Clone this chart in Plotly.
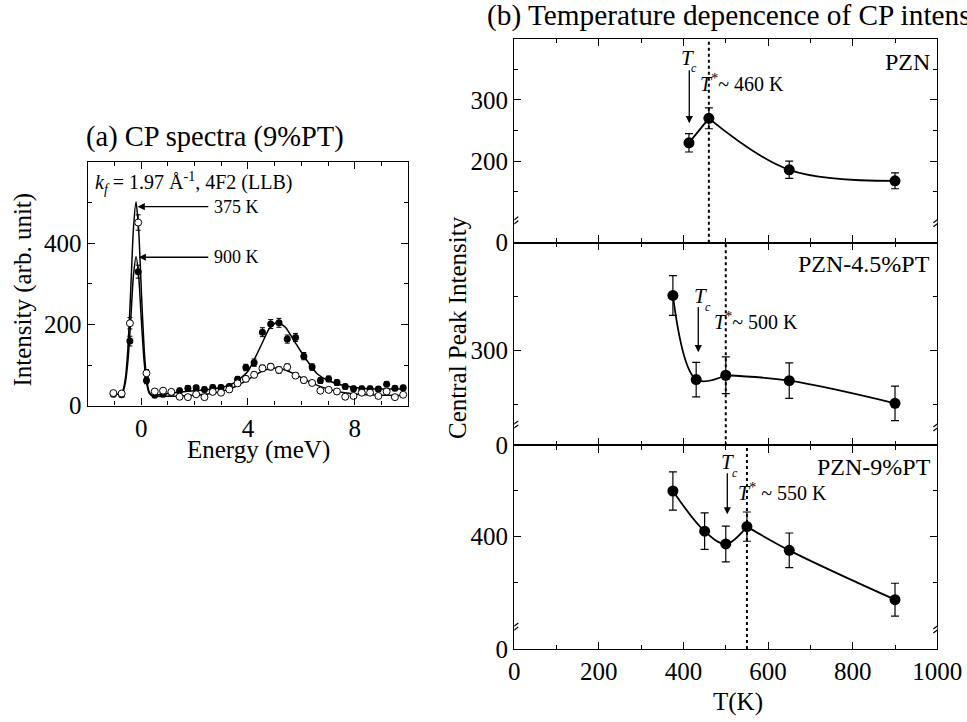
import plotly.graph_objects as go

FONT = "Liberation Serif, Times New Roman, serif"

# ---------------- Panel (a): CP spectra (9%PT) ----------------
E_PTS = [-1.04, -0.73, -0.42, -0.11, 0.20, 0.51, 0.82, 1.13, 1.44, 1.75, 2.06, 2.37,
         2.68, 2.99, 3.30, 3.61, 3.92, 4.23, 4.54, 4.85, 5.16, 5.47, 5.78, 6.09,
         6.40, 6.71, 7.02, 7.33, 7.64, 7.95, 8.26, 8.57, 8.88, 9.19, 9.50, 9.81]
I_375 = [31, 30, 203, 451, 80, 35, 37, 34, 22, 21, 28, 21, 34, 32, 40, 55, 66, 76,
         92, 96, 88, 95, 74, 63, 56, 37, 39, 35, 22, 24, 32, 32, 24, 35, 21, 27]
ERR_375 = [5, 5, 14, 19, 9, 5, 5, 5, 5, 5, 5, 5, 5, 5, 6, 6, 7, 7,
           8, 8, 8, 8, 7, 7, 6, 5, 5, 5, 5, 5, 5, 5, 5, 5, 5, 5]
I_900 = [28, 27, 159, 330, 62, 26, 28, 32, 37, 43, 44, 40, 45, 45, 47, 65, 94, 106,
         181, 201, 204, 164, 168, 122, 95, 62, 66, 57, 47, 42, 42, 42, 41, 53, 43, 44]
ERR_900 = [5, 5, 12, 16, 8, 5, 5, 5, 6, 6, 6, 6, 6, 6, 6, 7, 8, 9,
           11, 11, 11, 10, 10, 9, 8, 7, 7, 7, 6, 6, 6, 6, 6, 6, 6, 6]

# fitted curves
E_FIT = [-1.13, -0.9, -0.79, -0.69, -0.59, -0.49, -0.39, -0.29, -0.19, -0.09, 0.01,
         0.11, 0.21, 0.31, 0.41, 0.6, 1.0, 1.5, 2.0, 2.5, 3.0, 3.5, 4.0, 4.5, 4.8,
         5.1, 5.4, 5.8, 6.2, 6.6, 7.0, 7.5, 8.0, 8.5, 9.0, 9.5, 9.9]
FIT_375 = [28, 28, 30, 36, 67, 147, 284, 434, 502, 430, 280, 143, 63, 33, 25, 23,
           23, 24, 26, 29, 35, 46, 64, 84, 91, 93, 88, 76, 62, 50, 41, 33, 29, 27,
           26, 25, 25]
FIT_900 = [28, 28, 29, 33, 57, 113, 211, 319, 367, 318, 208, 110, 53, 30, 25, 26,
           30, 34, 37, 40, 45, 57, 85, 150, 190, 206, 193, 152, 112, 78, 62, 51, 45,
           42, 41, 41, 41]

# ---------------- Panel (b): temperature dependence ----------------
T_PZN = [413, 460, 650, 900]
I_PZN = [230, 270, 186, 168]
E_PZN = [15, 17, 14, 13]

T_45 = [375, 430, 500, 650, 900]
I_45 = [351, 273, 277, 272, 251]
E_45 = [18.5, 16, 17, 16.5, 16]

T_9 = [375, 450, 500, 550, 650, 900]
I_9 = [450, 406, 392, 411, 385, 331]
E_9 = [21, 20, 19.5, 16, 19, 18]

SAMPLES = ["PZN", "PZN-4.5%PT", "PZN-9%PT"]
T_STAR = [460, 500, 550]
T_STAR_TEXT = ["<i>T</i><sup>*</sup>~ 460 K", "<i>T</i><sup>*</sup>~ 500 K",
               "<i>T</i><sup>*</sup> ~ 550 K"]
T_C = [413.7, 435, 503.6]

fig = go.Figure()

# panel (a) curves
fig.add_trace(go.Scatter(x=E_FIT, y=FIT_375, mode="lines",
                         line=dict(color="black", width=1.5, shape="spline", smoothing=0.6),
                         xaxis="x", yaxis="y", showlegend=False))
fig.add_trace(go.Scatter(x=E_FIT, y=FIT_900, mode="lines",
                         line=dict(color="black", width=1.5, shape="spline", smoothing=0.6),
                         xaxis="x", yaxis="y", showlegend=False))
fig.add_trace(go.Scatter(x=E_PTS, y=I_900, mode="markers",
                         marker=dict(symbol="circle", size=7, color="black"),
                         error_y=dict(type="data", array=ERR_900, color="black", thickness=1, width=2.5),
                         xaxis="x", yaxis="y", showlegend=False))
fig.add_trace(go.Scatter(x=E_PTS, y=I_375, mode="markers",
                         marker=dict(symbol="circle", size=7, color="white",
                                     line=dict(color="black", width=1)),
                         error_y=dict(type="data", array=ERR_375, color="black", thickness=1, width=2.5),
                         xaxis="x", yaxis="y", showlegend=False))

# panel (b) traces
panels = [
    ("x2", "y2", T_PZN, I_PZN, E_PZN, [[0, 1], [1, 2, 3]]),
    ("x3", "y3", T_45, I_45, E_45, [[0, 1, 2], [2, 3, 4]]),
    ("x4", "y4", T_9, I_9, E_9, [[0, 1, 2, 3], [3, 4, 5]]),
]
for xa, ya, T, I, E, segs in panels:
    for seg in segs:
        fig.add_trace(go.Scatter(x=[T[i] for i in seg], y=[I[i] for i in seg], mode="lines",
                                 line=dict(color="black", width=1.8, shape="spline"),
                                 xaxis=xa, yaxis=ya, showlegend=False))
    fig.add_trace(go.Scatter(x=T, y=I, mode="markers",
                             marker=dict(symbol="circle", size=11, color="black"),
                             error_y=dict(type="data", array=E, color="black", thickness=1.2, width=4),
                             xaxis=xa, yaxis=ya, showlegend=False))

axis_common = dict(showline=True, linecolor="black", linewidth=1.4, mirror="ticks",
                   ticks="inside", ticklen=7, tickwidth=1.2, tickcolor="black",
                   showgrid=False, zeroline=False, automargin=False,
                   tickfont=dict(family=FONT, size=25, color="black"))

XB = [0.5318, 0.9693]
lay = dict(
    width=967, height=722, autosize=False,
    margin=dict(l=0, r=0, t=0, b=0, pad=0),
    paper_bgcolor="white", plot_bgcolor="white",
    font=dict(family=FONT, color="black"),
    xaxis=dict(domain=[0.0907, 0.4222], range=[-2, 10], anchor="y",
               tickvals=[0, 4, 8], minor=dict(dtick=1, ticklen=4, ticks="inside", tickcolor="black"),
               **axis_common),
    yaxis=dict(domain=[0.4381, 0.7756], range=[0, 600], anchor="x",
               tickvals=[0, 200, 400], minor=dict(dtick=100, ticklen=4, ticks="inside", tickcolor="black"),
               **axis_common),
    xaxis2=dict(domain=XB, range=[0, 1000], anchor="y2", showticklabels=False,
                tickvals=[0, 200, 400, 600, 800, 1000],
                minor=dict(dtick=100, ticklen=4, ticks="inside", tickcolor="black"), **axis_common),
    yaxis2=dict(domain=[0.6639, 0.9464], range=[67, 400], anchor="x2",
                tickvals=[67, 200, 300], ticktext=["0", "200", "300"],
                minor=dict(tickvals=[150, 250, 350], ticklen=4, ticks="inside", tickcolor="black"),
                **axis_common),
    xaxis3=dict(domain=XB, range=[0, 1000], anchor="y3", showticklabels=False,
                tickvals=[0, 200, 400, 600, 800, 1000],
                minor=dict(dtick=100, ticklen=4, ticks="inside", tickcolor="black"), **axis_common),
    yaxis3=dict(domain=[0.3832, 0.6639], range=[212, 400], anchor="x3",
                tickvals=[212, 300], ticktext=["0", "300"],
                minor=dict(tickvals=[250, 350], ticklen=4, ticks="inside", tickcolor="black"),
                **axis_common),
    xaxis4=dict(domain=XB, range=[0, 1000], anchor="y4",
                tickvals=[0, 200, 400, 600, 800, 1000],
                minor=dict(dtick=100, ticklen=4, ticks="inside", tickcolor="black"), **axis_common),
    yaxis4=dict(domain=[0.1011, 0.3832], range=[277, 500], anchor="x4",
                tickvals=[277, 400], ticktext=["0", "400"],
                minor=dict(tickvals=[350, 450], ticklen=4, ticks="inside", tickcolor="black"),
                **axis_common),
)
fig.update_layout(**lay)

shapes = []
# dotted T* lines
for k, ts in enumerate(T_STAR):
    xa = f"x{k+2}"
    ya = f"y{k+2}"
    shapes.append(dict(type="line", xref=xa, yref=f"{ya} domain", x0=ts, x1=ts, y0=0, y1=1,
                       line=dict(color="black", width=2, dash="dot"), layer="above"))

# axis break marks
BREAKS = [101, 230, 300]
for k, b in enumerate(BREAKS):
    xa = f"x{k+2}"
    ya = f"y{k+2}"
    for xe in (0, 1000):
        shapes.append(dict(type="line", xref=xa, yref=ya, xsizemode="pixel", ysizemode="pixel",
                           xanchor=xe, yanchor=b, x0=0, x1=0, y0=-1.5, y1=1.5,
                           line=dict(color="white", width=4), layer="above"))
        for off in (-2, 2):
            shapes.append(dict(type="line", xref=xa, yref=ya, xsizemode="pixel", ysizemode="pixel",
                               xanchor=xe, yanchor=b, x0=-4, x1=4, y0=off - 3, y1=off + 3,
                               line=dict(color="black", width=1.2), layer="above"))
fig.update_layout(shapes=shapes)

ann = []
def txt(text, x, y, xref, yref, size, xanchor="center", yanchor="middle", angle=0):
    ann.append(dict(text=text, x=x, y=y, xref=xref, yref=yref, showarrow=False,
                    xanchor=xanchor, yanchor=yanchor, textangle=angle,
                    font=dict(family=FONT, size=size, color="black")))

def arrow(x, y, ax, ay, xref, yref):
    ann.append(dict(text="", x=x, y=y, ax=ax, ay=ay, xref=xref, yref=yref,
                    axref=xref, ayref=yref, showarrow=True, arrowhead=2,
                    arrowsize=1.1, arrowwidth=1.3, arrowcolor="black"))

# titles and axis titles
txt("(a) CP spectra (9%PT)", 0.222, 0.8102, "paper", "paper", 28.5)
txt("(b) Temperature depencence of CP intens", 0.5015, 0.979, "paper", "paper", 29.3, xanchor="left")
txt("Intensity (arb. unit)", 0.0233, 0.5983, "paper", "paper", 25, angle=-90)
txt("Energy (meV)", 0.2673, 0.3767, "paper", "paper", 25)
txt("Central Peak Intensity", 0.4736, 0.5471, "paper", "paper", 25, angle=-90)
txt("T(K)", 0.7635, 0.0281, "paper", "paper", 25)

# panel (a) annotations
txt("<i>k</i><sub><i>f</i></sub> = 1.97 Å<sup>-1</sup>, 4F2 (LLB)", -1.785, 547.8, "x", "y", 20, xanchor="left")
arrow(-0.13, 490, 2.57, 490, "x", "y")
txt("375 K", 2.65, 490, "x", "y", 18, xanchor="left")
arrow(-0.09, 365.5, 2.57, 365.5, "x", "y")
txt("900 K", 2.65, 365.5, "x", "y", 18, xanchor="left")

# panel (b) annotations
lab_pos = [(987.5, 362.5), (987.5, 380.3), (989.8, 476.7)]
tc_T = [(410.6, 368.5), (441.4, 350.9), (504, 482.1)]
tc_c = [(424.8, 351.7), (459, 340.7), (521.7, 469.4)]
tc_arrow_y = [(262, 351), (298.4, 341.7), (424.5, 471)]
ts_pos = [(434.3, 328.2), (466.6, 326.9), (524.1, 449.3)]
for k in range(3):
    xa = f"x{k+2}"
    ya = f"y{k+2}"
    txt(SAMPLES[k], lab_pos[k][0], lab_pos[k][1], xa, ya, 24, xanchor="right")
    txt("<i>T</i>", tc_T[k][0], tc_T[k][1], xa, ya, 21)
    txt("<i>c</i>", tc_c[k][0], tc_c[k][1], xa, ya, 12)
    arrow(T_C[k], tc_arrow_y[k][0], T_C[k], tc_arrow_y[k][1], xa, ya)
    txt(T_STAR_TEXT[k], ts_pos[k][0], ts_pos[k][1], xa, ya, 20, xanchor="left")

fig.update_layout(annotations=ann)

fig.write_html("out.html", config={"displayModeBar": False},
               post_script="document.body.style.margin='0';document.body.style.overflow='hidden';")
